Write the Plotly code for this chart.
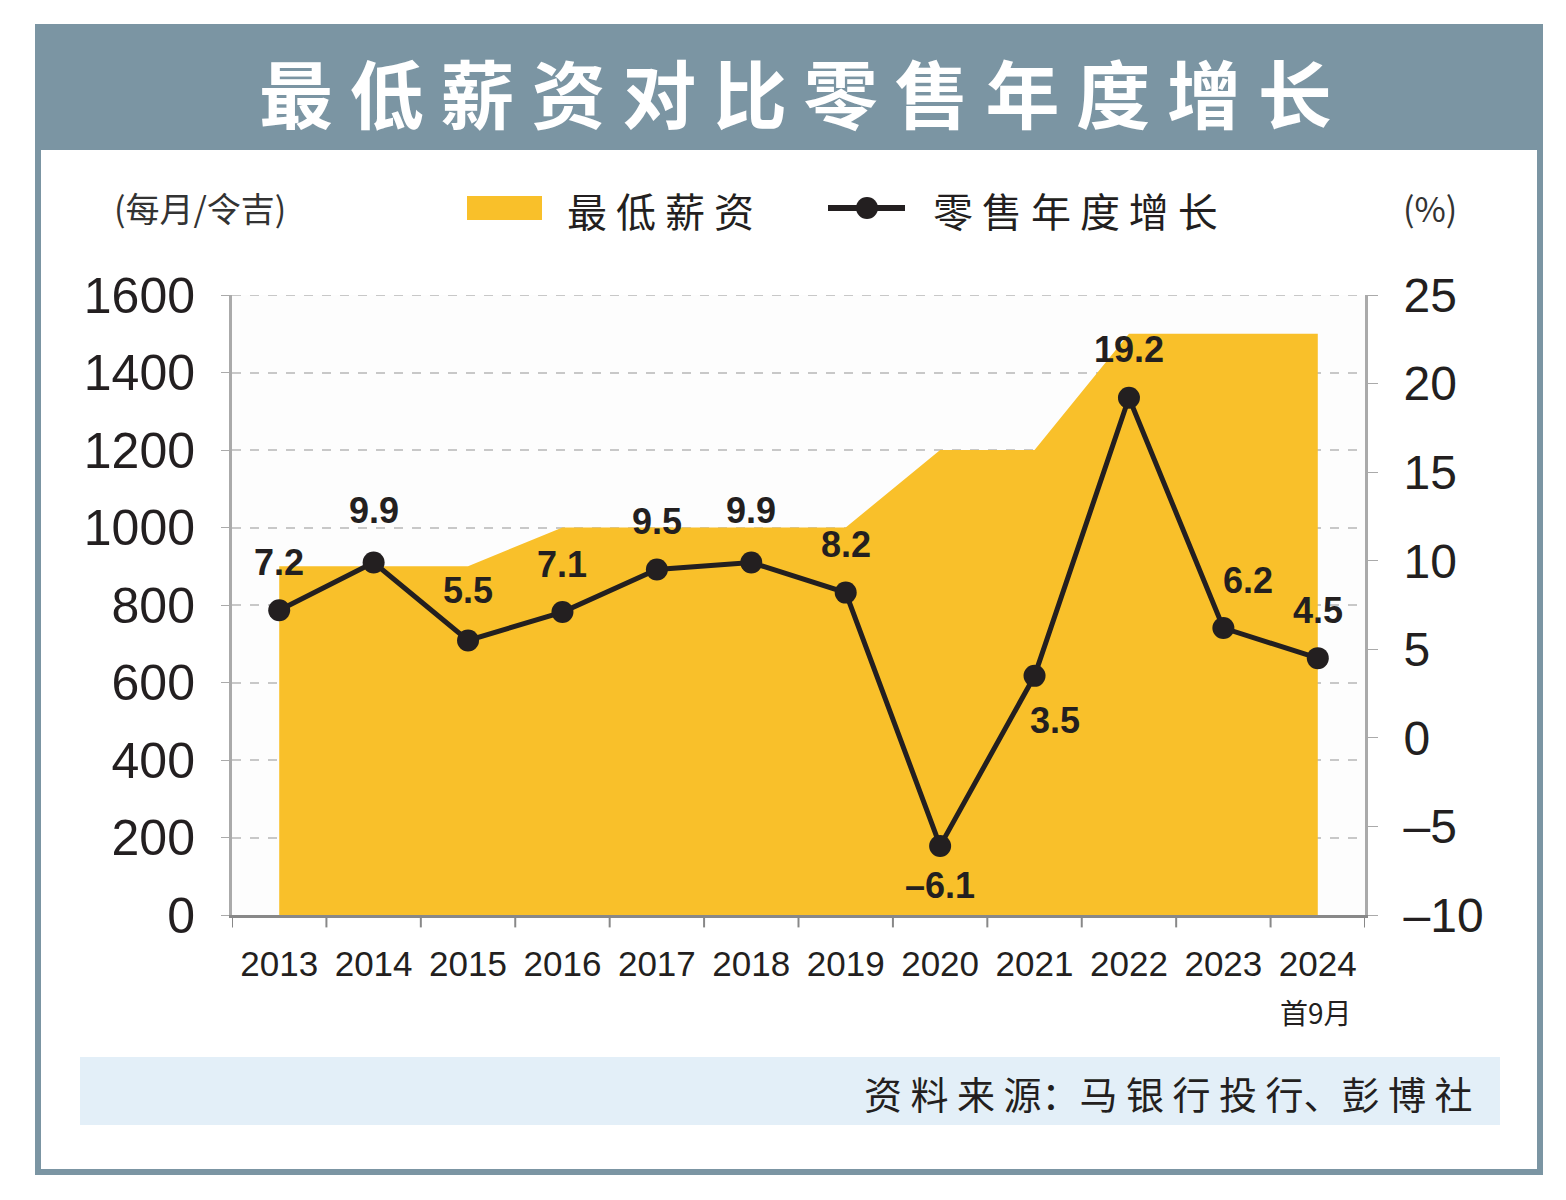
import plotly.graph_objects as go

years = ["2013", "2014", "2015", "2016", "2017", "2018", "2019", "2020", "2021", "2022", "2023", "2024"]
min_wage = [900, 900, 900, 1000, 1000, 1000, 1000, 1200, 1200, 1500, 1500, 1500]
retail_growth = [7.2, 9.9, 5.5, 7.1, 9.5, 9.9, 8.2, -6.1, 3.5, 19.2, 6.2, 4.5]
# label offsets (px) for each point label
label_dx = [0, 0, 0, 0, 0, 0, 0, 0, 20, 0, 25, 0]
label_dy = [-48, -52, -50, -48, -48, -52, -48, 40, 45, -48, -48, -48]

FRAME = "#7b95a3"
GOLD = "#f9c02a"
OFF = 8  # page body margin
L, R, T, B = 232 - OFF, 1365 - OFF, 295 - OFF, 915 - OFF
W, H = 1566 - 2 * OFF, 1200 - 2 * OFF
xs = list(range(len(years)))


def px(x):
    return (x - OFF - L) / (R - L)


def py(y):
    return (B - (y - OFF)) / (B - T)


fig = go.Figure()
fig.add_trace(go.Scatter(x=xs, y=min_wage, fill="tozeroy", mode="none",
                         fillcolor=GOLD, hoverinfo="skip"))
fig.add_trace(go.Scatter(x=xs, y=retail_growth, yaxis="y2", mode="lines+markers",
                         line=dict(color="#231f20", width=5),
                         marker=dict(color="#231f20", size=22)))

for i, v in enumerate(retail_growth):
    fig.add_annotation(x=xs[i], y=v, yref="y2",
                       text="<b>" + f"{v:.1f}".replace("-", "–") + "</b>",
                       showarrow=False, xshift=label_dx[i], yshift=-label_dy[i],
                       font=dict(size=36, color="#231f20", family="Liberation Sans"))

fig.add_shape(type="rect", xref="paper", yref="paper", x0=px(38), x1=px(1540), y0=py(27), y1=py(1172),
              line=dict(color=FRAME, width=6), layer="below")
fig.add_shape(type="rect", xref="paper", yref="paper", x0=px(38), x1=px(1540), y0=py(27), y1=py(150),
              fillcolor=FRAME, line=dict(width=0))
fig.add_shape(type="rect", xref="paper", yref="paper", x0=px(80), x1=px(1500), y0=py(1057), y1=py(1125),
              fillcolor="#e3eff8", line=dict(width=0), layer="below")
fig.add_shape(type="rect", xref="paper", yref="paper", x0=px(467), x1=px(542), y0=py(196), y1=py(220),
              fillcolor=GOLD, line=dict(width=0))
fig.add_shape(type="line", xref="paper", yref="paper", x0=px(828), x1=px(905), y0=py(208), y1=py(208),
              line=dict(color="#231f20", width=6))
fig.add_shape(type="circle", xref="paper", yref="paper", x0=px(856), x1=px(878),
              y0=py(219), y1=py(197), fillcolor="#231f20", line=dict(width=0))
# top dashed gridline at 1600
fig.add_shape(type="line", xref="paper", yref="y", x0=0, x1=1, y0=1600, y1=1600,
              line=dict(color="#c8c8c8", width=2, dash="dash"), layer="below")

texts = [
    (795, 90, "<b>最 低 薪 资 对 比 零 售 年 度 增 长</b>", 74, "white", "center"),
    (200, 207, "(每月/令吉)", 34, "#333", "center"),
    (660, 210, "最 低 薪 资", 40, "#231f20", "center"),
    (1075, 210, "零 售 年 度 增 长", 40, "#231f20", "center"),
    (1430, 207, "(%)", 34, "#333", "center"),
    (1316, 1012, "首9月", 28, "#231f20", "center"),
    (1475, 1092, "资 料 来 源：马 银 行 投 行、彭 博 社", 38, "#231f20", "right"),
]
for x, y, t, s, c, al in texts:
    fig.add_annotation(x=px(x), y=py(y), xref="paper", yref="paper", text=t, showarrow=False,
                       xanchor=al, yanchor="middle",
                       font=dict(size=s, color=c, family="Noto Sans CJK SC"))

fig.update_layout(
    width=W, height=H, margin=dict(l=L, r=W - R, t=T, b=H - B),
    paper_bgcolor="white", plot_bgcolor="#fdfdfd", showlegend=False,
    xaxis=dict(range=[-0.5, 11.5], tickvals=xs, ticktext=years, showgrid=False,
               showline=True, linecolor="#888", linewidth=3, zeroline=False,
               ticklabelstandoff=16,
               tickfont=dict(size=35, color="#231f20", family="Liberation Sans")),
    yaxis=dict(range=[0, 1600], dtick=200, showgrid=True, gridcolor="#c8c8c8", griddash="dash",
               gridwidth=2, showline=True, linecolor="#aaa", linewidth=3, zeroline=False,
               ticks="outside", ticklen=8, tickcolor="#aaa", ticklabelstandoff=16,
               tickfont=dict(size=50, color="#231f20", family="Liberation Sans")),
    yaxis2=dict(range=[-10, 25], overlaying="y", side="right", showgrid=False,
                showline=True, linecolor="#aaa", linewidth=3, zeroline=False,
                ticks="outside", ticklen=10, tickcolor="#aaa", ticklabelstandoff=16,
                tickvals=[-10, -5, 0, 5, 10, 15, 20, 25],
                ticktext=["–10", "–5", "0", "5", "10", "15", "20", "25"],
                tickfont=dict(size=48, color="#231f20", family="Liberation Sans")),
)
# category boundary ticks on x axis
for k in range(13):
    fig.add_shape(type="line", xref="x", yref="paper", x0=k - 0.5, x1=k - 0.5, y0=0, y1=-0.02,
                  line=dict(color="#888", width=2))

fig.write_html("out.html")
